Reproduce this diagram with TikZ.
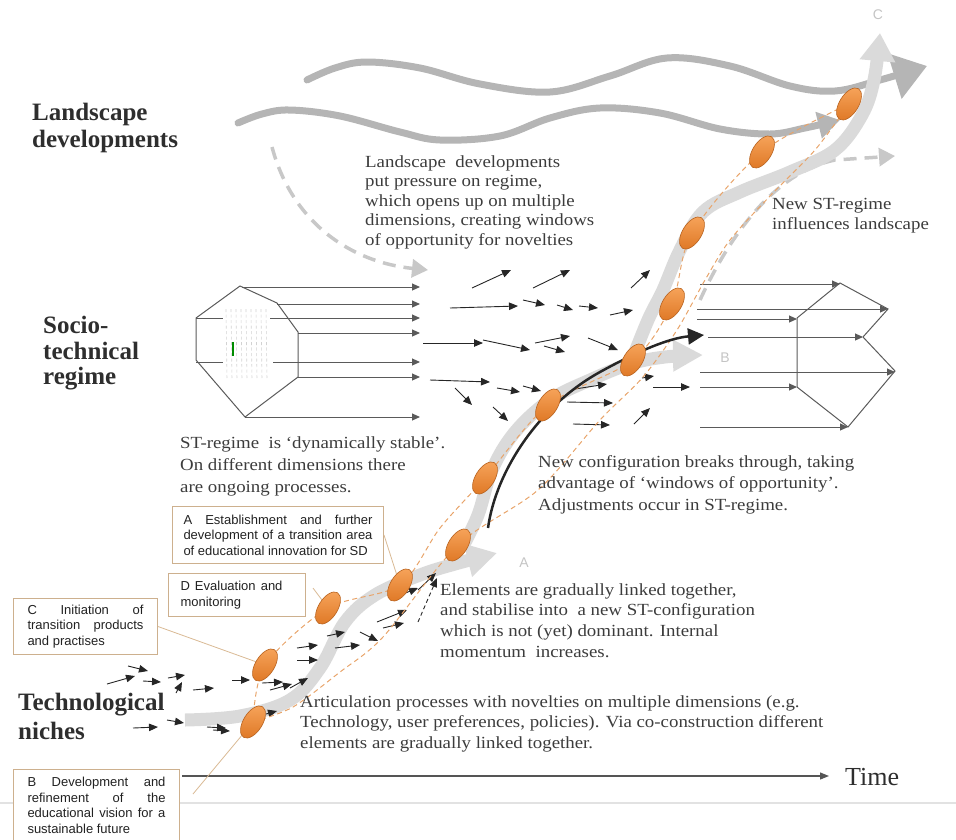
\documentclass[tikz,border=0pt]{standalone}
\usepackage{fontspec}
\setmainfont{Liberation Serif}
\newfontfamily\arialfont{Liberation Sans}
\newfontfamily\widefont[FakeStretch=1.11]{Liberation Serif}
\usetikzlibrary{arrows.meta,shapes.geometric}
\definecolor{wavegray}{HTML}{B5B5B5}
\definecolor{bandgray}{HTML}{DADADA}
\definecolor{dashgray}{HTML}{C8C8C8}
\definecolor{inkblack}{HTML}{262626}
\definecolor{hexgray}{HTML}{5A5A5A}
\definecolor{eggtop}{HTML}{F7A55C}
\definecolor{eggbot}{HTML}{E07A28}
\definecolor{eggedge}{HTML}{B8621E}
\definecolor{orangedash}{HTML}{E8A46A}
\definecolor{leadcol}{HTML}{D9B994}
\definecolor{boxedge}{HTML}{CDB08E}
\definecolor{boxtext}{HTML}{222222}
\definecolor{bodytext}{HTML}{3C3C3C}
\definecolor{headtext}{HTML}{2E2E2E}
\definecolor{letgray}{HTML}{C4C4C4}
\definecolor{sepgray}{HTML}{E2E2E2}
\definecolor{axisgray}{HTML}{555555}
\begin{document}
\begin{tikzpicture}[x=1pt,y=-1pt,
  wave/.style={line width=7pt, draw=wavegray, line cap=round},
  band/.style={line width=13pt, draw=bandgray},
  ldash/.style={line width=3.5pt, draw=dashgray, dash pattern=on 13pt off 8pt, -{Triangle[length=16pt,width=18pt]}},
  blk/.style={draw=inkblack, line width=0.9pt, -{Triangle[length=9pt,width=7.5pt]}},
  hexarrow/.style={draw=hexgray, line width=1pt, -{Triangle[length=8pt,width=7pt]}},
  hexline/.style={draw=hexgray, line width=1pt},
  egg/.style={ellipse, minimum width=36pt, minimum height=19pt, inner sep=0pt, draw=eggedge, line width=0.6pt, top color=eggtop, bottom color=eggbot, rotate=58},
  odash/.style={draw=orangedash, line width=1pt, dash pattern=on 5pt off 3.5pt},
  leader/.style={draw=leadcol, line width=0.8pt},
  infobox/.style={draw=boxedge, line width=1pt, fill=white, anchor=north west, align=left, text=boxtext, font=\arialfont\fontsize{13pt}{15.5pt}\selectfont},
  body/.style={anchor=north west, inner sep=0pt, align=left, text=bodytext},
  level/.style={anchor=north west, inner sep=0pt, align=left, text=headtext},
  letter/.style={text=letgray, font=\arialfont\fontsize{14pt}{16pt}\selectfont, inner sep=0pt}
]
\path[use as bounding box] (0,0) rectangle (956,839);
\clip (0,0) rectangle (956,839);

% separator and time axis
\draw[sepgray, line width=1.2pt] (0,803) -- (956,803);
\coordinate (t0) at (182,776);
\coordinate (t1) at (829,776);
\draw[axisgray, line width=1.2pt, -{Triangle[length=9pt,width=7pt]}] (t0) -- (t1);
\node[anchor=base west, inner sep=0pt, text=headtext, font=\fontsize{26pt}{28pt}\selectfont] (time) at (845,785) {Time};

% landscape waves
\draw[wave, -{Triangle[length=34pt,width=46pt]}] plot[smooth, tension=0.6] coordinates {(307,80) (335,68) (367,62) (420,68) (480,84) (550,92) (610,76) (667,58) (730,66) (790,86) (835,91) (880,80) (927,66)};
\draw[wave, -{Triangle[length=22pt,width=26pt]}] plot[smooth, tension=0.6] coordinates {(238,123) (262,114) (290,110) (340,116) (400,132) (440,140) (500,136) (550,118) (600,108) (660,113) (720,129) (770,134) (805,128) (840,120)};

% dashed gray arrows
\draw[ldash] (272,147) .. controls (292,222) and (350,262) .. (428,270);
\draw[ldash] (700,300) .. controls (730,235) and (775,172) .. (835,160) -- (895,156);

% thick gray bands
\draw[band, -{Triangle[length=30pt,width=32pt]}] plot[smooth, tension=0.6] coordinates {(185,720) (240,716) (290,700) (320,668) (345,622) (375,595) (420,575) (455,564) (497,553)};
\draw[band, -{Triangle[length=30pt,width=30pt]}] plot[smooth, tension=0.6] coordinates {(462,548) (478,515) (492,470) (515,432) (550,400) (590,380) (630,364) (665,357) (703,355)};
\draw[band, -{Triangle[length=28pt,width=34pt]}] plot[smooth, tension=0.6] coordinates {(630,365) (648,320) (663,290) (680,250) (703,212) (740,192) (790,172) (835,150) (862,115) (874,80) (880,33)};

% left regime hexagon
\draw[hexline] (240,286) -- (277,303) -- (298,332) -- (298,377) -- (245,417) -- (196,360) -- (196,318) -- cycle;
\foreach \xx in {226,231,...,268} \draw[gray!35, line width=0.6pt, dash pattern=on 3pt off 2.5pt] (\xx,309) -- (\xx+1,380);
\draw[green!55!black, line width=2pt] (233,342) -- (233,356);
\draw[hexline] (196,318) -- (223,318);
\draw[hexline] (196,362) -- (223,362);
\foreach \xa/\ya/\xb in {242/287/420, 277/304/420, 270/318/420, 298/333/420, 273/362/420, 298/377/420, 245/417/420}
  \draw[hexarrow] (\xa,\ya) -- (\xb,\ya);

% right regime hexagon
\draw[hexline] (797,318) -- (840,283) -- (888,309) -- (863,337) -- (895,371) -- (848,427) -- (797,387) -- cycle;
\foreach \xa/\ya/\xb in {700/284/840, 697/309/888, 697/319/797, 708/337/863, 700/372/895, 700/387/797, 700/427/848}
  \draw[hexarrow] (\xa,\ya) -- (\xb,\ya);

% regime middle arrows
\foreach \xa/\ya/\xb/\yb in {472/288/511/270, 533/288/570/270, 450/308/518/306, 523/300/545/305, 557/305/573/310, 579/306/598/308, 610/315/633/310, 631/288/650/270, 423/343/483/343, 483/340/530/350, 535/343/570/336, 544/346/565/352, 588/338/618/350, 430/380/490/382, 455/388/472/405, 497/388/520/392, 523/386/541/391, 493/407/508/421, 575/389/607/384, 567/402/613/403, 573/424/610/425, 634/424/650/408, 642/378/654/376, 653/387/690/387}
  \draw[blk] (\xa,\ya) -- (\xb,\yb);

% niche arrows
\foreach \xa/\ya/\xb/\yb in {107/684/135/676, 128/666/148/671, 143/681/161/682, 168/678/185/675, 176/693/182/682, 193/690/214/688, 232/680/250/680, 262/683/283/682, 270/690/292/684, 290/688/308/678, 297/648/318/645, 297/660/318/660, 327/636/345/632, 335/648/360/645, 360/632/378/641, 377/622/407/610, 383/628/404/623, 403/594/418/588, 418/590/436/573, 133/728/158/727, 167/720/184/723, 207/727/226/728, 213/730/230/731, 266/714/277/711}
  \draw[blk] (\xa,\ya) -- (\xb,\yb);
\draw[blk, dash pattern=on 4pt off 3pt] (418,622) -- (437,578);

% ellipse centres
\coordinate (c1) at (253,722);
\coordinate (c2) at (265,665);
\coordinate (c3) at (328,608);
\coordinate (c4) at (400,585);
\coordinate (c5) at (458,545);
\coordinate (c6) at (485,478);
\coordinate (c7) at (548,405);
\coordinate (c8) at (633,360);
\coordinate (c9) at (672,304);
\coordinate (c10) at (692,233);
\coordinate (c11) at (762,152);
\coordinate (c12) at (849,104);

% orange dashed envelope
\draw[odash] plot[smooth, tension=0.5] coordinates {(c1) (c2) (c3) (c4) (440,528) (c6) (c7) (c8) (c9) (c10) (c11) (c12)};
\draw[odash] plot[smooth, tension=0.5] coordinates {(c1) (293,707) (340,672) (383,637) (c5) (538,490) (600,420) (643,377) (677,330) (705,280) (730,240) (770,196) (815,150) (c12)};

% black curve
\coordinate (k0) at (488,528);
\coordinate (k1) at (704,335);
\draw[draw=inkblack, line width=2.5pt, -{Triangle[length=16pt,width=16pt]}] (k0) .. controls (496,470) and (540,405) .. (600,372) .. controls (640,350) and (670,338) .. (k1);

% level labels
\node[level, font=\bfseries\fontsize{25pt}{27pt}\selectfont] (lland) at (32,103) {Landscape\\developments};
\node[level, font=\bfseries\fontsize{25pt}{25.5pt}\selectfont] (lreg) at (43,316) {Socio-\\technical\\regime};
\node[level, font=\bfseries\fontsize{25pt}{28.5pt}\selectfont] (lniche) at (18,693) {Technological\\niches};

% body texts
\node[body, font=\widefont\fontsize{17pt}{19.5pt}\selectfont] (tland) at (365,155) {Landscape\ \ developments\\put pressure on regime,\\which opens up on multiple\\dimensions, creating windows\\of opportunity for novelties};
\node[body, font=\widefont\fontsize{17pt}{20pt}\selectfont] (tnew) at (772,198) {New ST-regime\\influences landscape};
\node[body, font=\widefont\fontsize{17pt}{22pt}\selectfont] (tstable) at (180,436) {ST-regime\ \ is ‘dynamically stable’.\\On different dimensions there\\are ongoing processes.};
\node[body, font=\widefont\fontsize{17pt}{21.5pt}\selectfont] (tbreak) at (538,455) {New configuration breaks through, taking\\advantage of ‘windows of opportunity’.\\Adjustments occur in ST-regime.};
\node[body, font=\widefont\fontsize{17pt}{20.7pt}\selectfont] (telem) at (440,583) {Elements are gradually linked together,\\and stabilise into\ \ a new ST-configuration\\which is not (yet) dominant. Internal\\momentum\ \ increases.};
\node[body, font=\widefont\fontsize{17pt}{20.5pt}\selectfont] (tartic) at (300,695) {Articulation processes with novelties on multiple dimensions (e.g.\\Technology, user preferences, policies). Via co-construction different\\elements are gradually linked together.};

% boxes
\node[infobox, inner xsep=11pt, inner ysep=6pt, minimum height=57pt] (boxA) at (172,506) {\makebox[189pt][s]{A Establishment and further}\\\makebox[189pt][s]{development of a transition area}\\of educational innovation for SD};
\node[infobox, inner xsep=12pt, inner ysep=6pt, minimum height=43pt] (boxD) at (168,573) {\makebox[102pt][s]{D Evaluation and}\\monitoring\hspace*{52pt}};
\node[infobox, inner xsep=14pt, inner ysep=6pt, minimum height=56pt] (boxC) at (13,598) {\makebox[116pt][s]{C Initiation of}\\\makebox[116pt][s]{transition products}\\and practises\hspace*{33pt}};
\node[infobox, inner xsep=14pt, inner ysep=8pt] (boxB) at (13,769) {\makebox[138pt][s]{B Development and}\\\makebox[138pt][s]{refinement of the}\\\makebox[138pt][s]{educational vision for a}\\sustainable future};

% leaders
\coordinate (dtip) at (313,588);
\coordinate (btip) at (193,794);
\draw[leader] (boxA.east) -- (c4);
\draw[leader] (dtip) -- (c3);
\draw[leader] (boxC.east) -- (c2);
\draw[leader] (btip) -- (c1);

% ellipses
\foreach \i in {1,...,12} \node[egg] (e\i) at (c\i) {};

% letters
\node[letter] (la) at (524,563) {A};
\node[letter] (lb) at (725,358) {B};
\node[letter] (lc) at (878,15) {C};
\end{tikzpicture}
\end{document}
